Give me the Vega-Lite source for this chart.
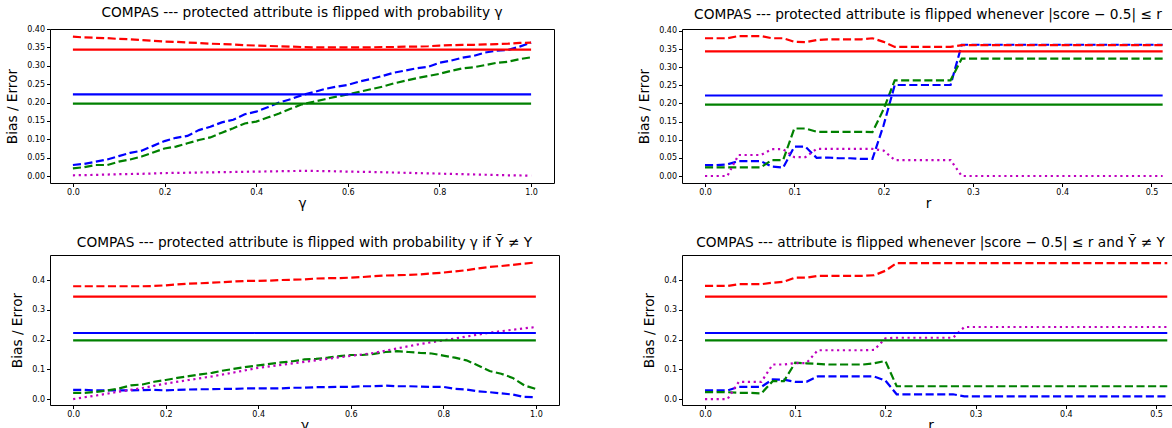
{
  "$schema": "https://vega.github.io/schema/vega-lite/v6.json",
  "datasets": {
    "d": [
      {"p":"TL","x":0,"bt":0.030,"gt":0.021,"rt":0.379,"ci":0.002},
      {"p":"TL","x":0.025,"bt":0.033,"gt":0.024,"rt":0.377},
      {"p":"TL","x":0.05,"bt":0.039,"gt":0.030,"rt":0.376,"ci":0.003},
      {"p":"TL","x":0.075,"bt":0.045,"gt":0.030,"rt":0.375},
      {"p":"TL","x":0.1,"bt":0.054,"gt":0.039,"rt":0.373,"ci":0.005},
      {"p":"TL","x":0.125,"bt":0.063,"gt":0.045,"rt":0.372},
      {"p":"TL","x":0.15,"bt":0.069,"gt":0.053,"rt":0.370,"ci":0.006},
      {"p":"TL","x":0.175,"bt":0.082,"gt":0.064,"rt":0.368},
      {"p":"TL","x":0.2,"bt":0.095,"gt":0.075,"rt":0.366,"ci":0.008},
      {"p":"TL","x":0.225,"bt":0.104,"gt":0.080,"rt":0.365},
      {"p":"TL","x":0.25,"bt":0.109,"gt":0.089,"rt":0.363,"ci":0.009},
      {"p":"TL","x":0.275,"bt":0.125,"gt":0.098,"rt":0.362},
      {"p":"TL","x":0.3,"bt":0.134,"gt":0.105,"rt":0.360,"ci":0.010},
      {"p":"TL","x":0.325,"bt":0.146,"gt":0.118,"rt":0.359},
      {"p":"TL","x":0.35,"bt":0.153,"gt":0.130,"rt":0.358,"ci":0.011},
      {"p":"TL","x":0.375,"bt":0.168,"gt":0.143,"rt":0.356},
      {"p":"TL","x":0.4,"bt":0.175,"gt":0.148,"rt":0.355,"ci":0.012},
      {"p":"TL","x":0.425,"bt":0.187,"gt":0.159,"rt":0.354},
      {"p":"TL","x":0.45,"bt":0.200,"gt":0.170,"rt":0.353,"ci":0.013},
      {"p":"TL","x":0.475,"bt":0.209,"gt":0.183,"rt":0.352},
      {"p":"TL","x":0.5,"bt":0.220,"gt":0.195,"rt":0.351,"ci":0.014},
      {"p":"TL","x":0.525,"bt":0.228,"gt":0.202,"rt":0.350},
      {"p":"TL","x":0.55,"bt":0.237,"gt":0.209,"rt":0.350,"ci":0.0135},
      {"p":"TL","x":0.575,"bt":0.243,"gt":0.216,"rt":0.350},
      {"p":"TL","x":0.6,"bt":0.248,"gt":0.222,"rt":0.350,"ci":0.012},
      {"p":"TL","x":0.625,"bt":0.257,"gt":0.229,"rt":0.350},
      {"p":"TL","x":0.65,"bt":0.264,"gt":0.236,"rt":0.350,"ci":0.011},
      {"p":"TL","x":0.675,"bt":0.272,"gt":0.243,"rt":0.351},
      {"p":"TL","x":0.7,"bt":0.281,"gt":0.252,"rt":0.351,"ci":0.0095},
      {"p":"TL","x":0.725,"bt":0.287,"gt":0.259,"rt":0.352},
      {"p":"TL","x":0.75,"bt":0.293,"gt":0.266,"rt":0.352,"ci":0.008},
      {"p":"TL","x":0.775,"bt":0.297,"gt":0.272,"rt":0.353},
      {"p":"TL","x":0.8,"bt":0.308,"gt":0.278,"rt":0.355,"ci":0.0065},
      {"p":"TL","x":0.825,"bt":0.314,"gt":0.286,"rt":0.356},
      {"p":"TL","x":0.85,"bt":0.322,"gt":0.293,"rt":0.357,"ci":0.005},
      {"p":"TL","x":0.875,"bt":0.327,"gt":0.296,"rt":0.357},
      {"p":"TL","x":0.9,"bt":0.336,"gt":0.302,"rt":0.358,"ci":0.0035},
      {"p":"TL","x":0.925,"bt":0.341,"gt":0.308,"rt":0.359},
      {"p":"TL","x":0.95,"bt":0.343,"gt":0.311,"rt":0.360,"ci":0.002},
      {"p":"TL","x":0.975,"bt":0.352,"gt":0.318,"rt":0.362},
      {"p":"TL","x":1,"bt":0.363,"gt":0.323,"rt":0.363,"ci":0.001},
      {"p":"TL","x":0,"bc":0.222,"gc":0.197,"rc":0.344},
      {"p":"TL","x":1,"bc":0.222,"gc":0.197,"rc":0.344},
      {"p":"TR","x":0,"bt":0.030,"gt":0.024,"rt":0.380,"ci":0},
      {"p":"TR","x":0.0125,"bt":0.030,"gt":0.024,"rt":0.380,"ci":0},
      {"p":"TR","x":0.025,"bt":0.032,"gt":0.024,"rt":0.380,"ci":0},
      {"p":"TR","x":0.0375,"bt":0.041,"gt":0.024,"rt":0.386,"ci":0.058},
      {"p":"TR","x":0.05,"bt":0.041,"gt":0.024,"rt":0.386,"ci":0.058},
      {"p":"TR","x":0.0625,"bt":0.041,"gt":0.024,"rt":0.386,"ci":0.058},
      {"p":"TR","x":0.075,"bt":0.026,"gt":0.044,"rt":0.380,"ci":0.074},
      {"p":"TR","x":0.0875,"bt":0.023,"gt":0.044,"rt":0.380,"ci":0.074},
      {"p":"TR","x":0.1,"bt":0.081,"gt":0.131,"rt":0.370,"ci":0.052},
      {"p":"TR","x":0.1125,"bt":0.081,"gt":0.131,"rt":0.369,"ci":0.052},
      {"p":"TR","x":0.125,"bt":0.050,"gt":0.122,"rt":0.375,"ci":0.075},
      {"p":"TR","x":0.1375,"bt":0.051,"gt":0.122,"rt":0.377,"ci":0.075},
      {"p":"TR","x":0.15,"bt":0.049,"gt":0.122,"rt":0.377,"ci":0.075},
      {"p":"TR","x":0.1625,"bt":0.049,"gt":0.122,"rt":0.377,"ci":0.075},
      {"p":"TR","x":0.175,"bt":0.047,"gt":0.122,"rt":0.377,"ci":0.075},
      {"p":"TR","x":0.1875,"bt":0.047,"gt":0.121,"rt":0.380,"ci":0.075},
      {"p":"TR","x":0.2,"bt":0.140,"gt":0.184,"rt":0.370,"ci":0.070},
      {"p":"TR","x":0.2125,"bt":0.251,"gt":0.264,"rt":0.356,"ci":0.044},
      {"p":"TR","x":0.225,"bt":0.251,"gt":0.264,"rt":0.356,"ci":0.044},
      {"p":"TR","x":0.2375,"bt":0.251,"gt":0.264,"rt":0.356,"ci":0.044},
      {"p":"TR","x":0.25,"bt":0.251,"gt":0.264,"rt":0.356,"ci":0.044},
      {"p":"TR","x":0.2625,"bt":0.251,"gt":0.264,"rt":0.356,"ci":0.044},
      {"p":"TR","x":0.275,"bt":0.251,"gt":0.264,"rt":0.356,"ci":0.044},
      {"p":"TR","x":0.2875,"bt":0.362,"gt":0.324,"rt":0.361,"ci":0},
      {"p":"TR","x":0.3,"bt":0.362,"gt":0.324,"rt":0.361,"ci":0},
      {"p":"TR","x":0.3125,"bt":0.362,"gt":0.324,"rt":0.361,"ci":0},
      {"p":"TR","x":0.325,"bt":0.362,"gt":0.324,"rt":0.361,"ci":0},
      {"p":"TR","x":0.3375,"bt":0.362,"gt":0.324,"rt":0.361,"ci":0},
      {"p":"TR","x":0.35,"bt":0.362,"gt":0.324,"rt":0.361,"ci":0},
      {"p":"TR","x":0.3625,"bt":0.362,"gt":0.324,"rt":0.361,"ci":0},
      {"p":"TR","x":0.375,"bt":0.362,"gt":0.324,"rt":0.361,"ci":0},
      {"p":"TR","x":0.3875,"bt":0.362,"gt":0.324,"rt":0.361,"ci":0},
      {"p":"TR","x":0.4,"bt":0.362,"gt":0.324,"rt":0.361,"ci":0},
      {"p":"TR","x":0.4125,"bt":0.362,"gt":0.324,"rt":0.361,"ci":0},
      {"p":"TR","x":0.425,"bt":0.362,"gt":0.324,"rt":0.361,"ci":0},
      {"p":"TR","x":0.4375,"bt":0.362,"gt":0.324,"rt":0.361,"ci":0},
      {"p":"TR","x":0.45,"bt":0.362,"gt":0.324,"rt":0.361,"ci":0},
      {"p":"TR","x":0.4625,"bt":0.362,"gt":0.324,"rt":0.361,"ci":0},
      {"p":"TR","x":0.475,"bt":0.362,"gt":0.324,"rt":0.361,"ci":0},
      {"p":"TR","x":0.4875,"bt":0.362,"gt":0.324,"rt":0.361,"ci":0},
      {"p":"TR","x":0.5,"bt":0.362,"gt":0.324,"rt":0.361,"ci":0},
      {"p":"TR","x":0.5125,"bt":0.362,"gt":0.324,"rt":0.361,"ci":0},
      {"p":"TR","x":0,"bc":0.222,"gc":0.197,"rc":0.344},
      {"p":"TR","x":0.5125,"bc":0.222,"gc":0.197,"rc":0.344},
      {"p":"BL","x":0,"bt":0.031,"gt":0.021,"rt":0.379,"ci":0.000},
      {"p":"BL","x":0.025,"bt":0.031,"gt":0.021,"rt":0.379},
      {"p":"BL","x":0.05,"bt":0.029,"gt":0.024,"rt":0.379,"ci":0.012},
      {"p":"BL","x":0.075,"bt":0.029,"gt":0.029,"rt":0.379},
      {"p":"BL","x":0.1,"bt":0.029,"gt":0.036,"rt":0.379,"ci":0.025},
      {"p":"BL","x":0.125,"bt":0.029,"gt":0.046,"rt":0.379},
      {"p":"BL","x":0.15,"bt":0.030,"gt":0.049,"rt":0.379,"ci":0.037},
      {"p":"BL","x":0.175,"bt":0.031,"gt":0.058,"rt":0.380},
      {"p":"BL","x":0.2,"bt":0.029,"gt":0.064,"rt":0.382,"ci":0.052},
      {"p":"BL","x":0.225,"bt":0.031,"gt":0.071,"rt":0.385},
      {"p":"BL","x":0.25,"bt":0.032,"gt":0.077,"rt":0.388,"ci":0.064},
      {"p":"BL","x":0.275,"bt":0.033,"gt":0.083,"rt":0.389},
      {"p":"BL","x":0.3,"bt":0.033,"gt":0.088,"rt":0.391,"ci":0.076},
      {"p":"BL","x":0.325,"bt":0.034,"gt":0.096,"rt":0.393},
      {"p":"BL","x":0.35,"bt":0.034,"gt":0.102,"rt":0.395,"ci":0.090},
      {"p":"BL","x":0.375,"bt":0.036,"gt":0.108,"rt":0.397},
      {"p":"BL","x":0.4,"bt":0.036,"gt":0.113,"rt":0.397,"ci":0.105},
      {"p":"BL","x":0.425,"bt":0.036,"gt":0.118,"rt":0.398},
      {"p":"BL","x":0.45,"bt":0.036,"gt":0.123,"rt":0.400,"ci":0.115},
      {"p":"BL","x":0.475,"bt":0.038,"gt":0.127,"rt":0.401},
      {"p":"BL","x":0.5,"bt":0.038,"gt":0.133,"rt":0.402,"ci":0.125},
      {"p":"BL","x":0.525,"bt":0.040,"gt":0.135,"rt":0.405},
      {"p":"BL","x":0.55,"bt":0.040,"gt":0.139,"rt":0.406,"ci":0.135},
      {"p":"BL","x":0.575,"bt":0.041,"gt":0.144,"rt":0.406},
      {"p":"BL","x":0.6,"bt":0.041,"gt":0.148,"rt":0.408,"ci":0.145},
      {"p":"BL","x":0.625,"bt":0.043,"gt":0.148,"rt":0.410},
      {"p":"BL","x":0.65,"bt":0.043,"gt":0.152,"rt":0.413,"ci":0.155},
      {"p":"BL","x":0.675,"bt":0.045,"gt":0.158,"rt":0.415},
      {"p":"BL","x":0.7,"bt":0.043,"gt":0.161,"rt":0.416,"ci":0.170},
      {"p":"BL","x":0.725,"bt":0.043,"gt":0.158,"rt":0.417},
      {"p":"BL","x":0.75,"bt":0.042,"gt":0.155,"rt":0.419,"ci":0.185},
      {"p":"BL","x":0.775,"bt":0.041,"gt":0.153,"rt":0.422},
      {"p":"BL","x":0.8,"bt":0.041,"gt":0.146,"rt":0.425,"ci":0.197},
      {"p":"BL","x":0.825,"bt":0.034,"gt":0.139,"rt":0.429},
      {"p":"BL","x":0.85,"bt":0.032,"gt":0.130,"rt":0.433,"ci":0.210},
      {"p":"BL","x":0.875,"bt":0.026,"gt":0.113,"rt":0.439},
      {"p":"BL","x":0.9,"bt":0.023,"gt":0.094,"rt":0.444,"ci":0.223},
      {"p":"BL","x":0.925,"bt":0.019,"gt":0.085,"rt":0.447},
      {"p":"BL","x":0.95,"bt":0.015,"gt":0.071,"rt":0.451,"ci":0.233},
      {"p":"BL","x":0.975,"bt":0.007,"gt":0.046,"rt":0.455},
      {"p":"BL","x":1,"bt":0.006,"gt":0.034,"rt":0.459,"ci":0.242},
      {"p":"BL","x":0,"bc":0.222,"gc":0.197,"rc":0.344},
      {"p":"BL","x":1,"bc":0.222,"gc":0.197,"rc":0.344},
      {"p":"BR","x":0,"bt":0.029,"gt":0.023,"rt":0.380,"ci":0},
      {"p":"BR","x":0.0125,"bt":0.029,"gt":0.023,"rt":0.380,"ci":0},
      {"p":"BR","x":0.025,"bt":0.029,"gt":0.023,"rt":0.380,"ci":0},
      {"p":"BR","x":0.0375,"bt":0.041,"gt":0.021,"rt":0.386,"ci":0.058},
      {"p":"BR","x":0.05,"bt":0.041,"gt":0.021,"rt":0.386,"ci":0.058},
      {"p":"BR","x":0.0625,"bt":0.041,"gt":0.019,"rt":0.386,"ci":0.058},
      {"p":"BR","x":0.075,"bt":0.066,"gt":0.060,"rt":0.391,"ci":0.116},
      {"p":"BR","x":0.0875,"bt":0.065,"gt":0.060,"rt":0.394,"ci":0.116},
      {"p":"BR","x":0.1,"bt":0.058,"gt":0.122,"rt":0.408,"ci":0.121},
      {"p":"BR","x":0.1125,"bt":0.058,"gt":0.120,"rt":0.408,"ci":0.121},
      {"p":"BR","x":0.125,"bt":0.076,"gt":0.118,"rt":0.414,"ci":0.164},
      {"p":"BR","x":0.1375,"bt":0.076,"gt":0.116,"rt":0.414,"ci":0.164},
      {"p":"BR","x":0.15,"bt":0.076,"gt":0.116,"rt":0.414,"ci":0.164},
      {"p":"BR","x":0.1625,"bt":0.076,"gt":0.116,"rt":0.414,"ci":0.164},
      {"p":"BR","x":0.175,"bt":0.076,"gt":0.116,"rt":0.414,"ci":0.164},
      {"p":"BR","x":0.1875,"bt":0.076,"gt":0.120,"rt":0.416,"ci":0.165},
      {"p":"BR","x":0.2,"bt":0.062,"gt":0.128,"rt":0.431,"ci":0.204},
      {"p":"BR","x":0.2125,"bt":0.016,"gt":0.043,"rt":0.457,"ci":0.206},
      {"p":"BR","x":0.225,"bt":0.016,"gt":0.043,"rt":0.457,"ci":0.206},
      {"p":"BR","x":0.2375,"bt":0.016,"gt":0.043,"rt":0.457,"ci":0.206},
      {"p":"BR","x":0.25,"bt":0.016,"gt":0.043,"rt":0.457,"ci":0.206},
      {"p":"BR","x":0.2625,"bt":0.016,"gt":0.043,"rt":0.457,"ci":0.206},
      {"p":"BR","x":0.275,"bt":0.016,"gt":0.043,"rt":0.457,"ci":0.206},
      {"p":"BR","x":0.2875,"bt":0.009,"gt":0.043,"rt":0.457,"ci":0.242},
      {"p":"BR","x":0.3,"bt":0.009,"gt":0.043,"rt":0.457,"ci":0.242},
      {"p":"BR","x":0.3125,"bt":0.009,"gt":0.043,"rt":0.457,"ci":0.242},
      {"p":"BR","x":0.325,"bt":0.009,"gt":0.043,"rt":0.457,"ci":0.242},
      {"p":"BR","x":0.3375,"bt":0.009,"gt":0.043,"rt":0.457,"ci":0.242},
      {"p":"BR","x":0.35,"bt":0.009,"gt":0.043,"rt":0.457,"ci":0.242},
      {"p":"BR","x":0.3625,"bt":0.009,"gt":0.043,"rt":0.457,"ci":0.242},
      {"p":"BR","x":0.375,"bt":0.009,"gt":0.043,"rt":0.457,"ci":0.242},
      {"p":"BR","x":0.3875,"bt":0.009,"gt":0.043,"rt":0.457,"ci":0.242},
      {"p":"BR","x":0.4,"bt":0.009,"gt":0.043,"rt":0.457,"ci":0.242},
      {"p":"BR","x":0.4125,"bt":0.009,"gt":0.043,"rt":0.457,"ci":0.242},
      {"p":"BR","x":0.425,"bt":0.009,"gt":0.043,"rt":0.457,"ci":0.242},
      {"p":"BR","x":0.4375,"bt":0.009,"gt":0.043,"rt":0.457,"ci":0.242},
      {"p":"BR","x":0.45,"bt":0.009,"gt":0.043,"rt":0.457,"ci":0.242},
      {"p":"BR","x":0.4625,"bt":0.009,"gt":0.043,"rt":0.457,"ci":0.242},
      {"p":"BR","x":0.475,"bt":0.009,"gt":0.043,"rt":0.457,"ci":0.242},
      {"p":"BR","x":0.4875,"bt":0.009,"gt":0.043,"rt":0.457,"ci":0.242},
      {"p":"BR","x":0.5,"bt":0.009,"gt":0.043,"rt":0.457,"ci":0.242},
      {"p":"BR","x":0.5125,"bt":0.009,"gt":0.043,"rt":0.457,"ci":0.242},
      {"p":"BR","x":0,"bc":0.222,"gc":0.197,"rc":0.344},
      {"p":"BR","x":0.5125,"bc":0.222,"gc":0.197,"rc":0.344}
    ]
  },
  "spacing": 24,
  "vconcat": [
    {
      "spacing": 82,
      "hconcat": [
        {
          "width": 504, "height": 154,
          "title": "COMPAS --- protected attribute is flipped with probability γ",
          "data": {"name": "d"},
          "transform": [{"filter": "datum.p == 'TL'"}, {"fold": ["bt","bc","gt","gc","rt","rc","ci"], "as": ["s","y"]}, {"filter": "datum.y != null"}],
          "mark": {"type": "line", "strokeWidth": 2.2},
          "encoding": {
            "x": {"field": "x", "type": "quantitative", "scale": {"domain": [-0.05, 1.05], "nice": false, "zero": false}, "axis": {"values": [0,0.2,0.4,0.6,0.8,1], "format": ".1f", "title": "γ"}},
            "y": {"field": "y", "type": "quantitative", "scale": {"domain": [-0.019, 0.4], "nice": false, "zero": false}, "axis": {"values": [0,0.05,0.1,0.15,0.2,0.25,0.3,0.35,0.4], "format": ".2f", "title": "Bias / Error"}},
            "color": {"field": "s", "type": "nominal", "scale": {"domain": ["bt","bc","gt","gc","rt","rc","ci"], "range": ["#0000ff","#0000ff","#008000","#008000","#ff0000","#ff0000","#bf00bf"]}, "legend": null},
            "strokeDash": {"field": "s", "type": "nominal", "scale": {"domain": ["bt","bc","gt","gc","rt","rc","ci"], "range": [[8.1,3.5],[1,0],[8.1,3.5],[1,0],[8.1,3.5],[1,0],[2.2,3.6]]}, "legend": null}
          }
        },
        {
          "width": 492, "height": 154,
          "title": "COMPAS --- protected attribute is flipped whenever |score − 0.5| ≤ r",
          "data": {"name": "d"},
          "transform": [{"filter": "datum.p == 'TR'"}, {"fold": ["bt","bc","gt","gc","rt","rc","ci"], "as": ["s","y"]}, {"filter": "datum.y != null"}],
          "mark": {"type": "line", "strokeWidth": 2.2},
          "encoding": {
            "x": {"field": "x", "type": "quantitative", "scale": {"domain": [-0.02576, 0.5252], "nice": false, "zero": false}, "axis": {"values": [0,0.1,0.2,0.3,0.4,0.5], "format": ".1f", "title": "r"}},
            "y": {"field": "y", "type": "quantitative", "scale": {"domain": [-0.0193, 0.4055], "nice": false, "zero": false}, "axis": {"values": [0,0.05,0.1,0.15,0.2,0.25,0.3,0.35,0.4], "format": ".2f", "title": "Bias / Error"}},
            "color": {"field": "s", "type": "nominal", "scale": {"domain": ["bt","bc","gt","gc","rt","rc","ci"], "range": ["#0000ff","#0000ff","#008000","#008000","#ff0000","#ff0000","#bf00bf"]}, "legend": null},
            "strokeDash": {"field": "s", "type": "nominal", "scale": {"domain": ["bt","bc","gt","gc","rt","rc","ci"], "range": [[8.1,3.5],[1,0],[8.1,3.5],[1,0],[8.1,3.5],[1,0],[2.2,3.6]]}, "legend": null}
          }
        }
      ]
    },
    {
      "spacing": 82,
      "hconcat": [
        {
          "width": 509, "height": 150,
          "title": "COMPAS --- protected attribute is flipped with probability γ if Ỹ ≠ Y",
          "data": {"name": "d"},
          "transform": [{"filter": "datum.p == 'BL'"}, {"fold": ["bt","bc","gt","gc","rt","rc","ci"], "as": ["s","y"]}, {"filter": "datum.y != null"}],
          "mark": {"type": "line", "strokeWidth": 2.2},
          "encoding": {
            "x": {"field": "x", "type": "quantitative", "scale": {"domain": [-0.05, 1.05], "nice": false, "zero": false}, "axis": {"values": [0,0.2,0.4,0.6,0.8,1], "format": ".1f", "title": "γ"}},
            "y": {"field": "y", "type": "quantitative", "scale": {"domain": [-0.02, 0.484], "nice": false, "zero": false}, "axis": {"values": [0,0.1,0.2,0.3,0.4], "format": ".1f", "title": "Bias / Error"}},
            "color": {"field": "s", "type": "nominal", "scale": {"domain": ["bt","bc","gt","gc","rt","rc","ci"], "range": ["#0000ff","#0000ff","#008000","#008000","#ff0000","#ff0000","#bf00bf"]}, "legend": null},
            "strokeDash": {"field": "s", "type": "nominal", "scale": {"domain": ["bt","bc","gt","gc","rt","rc","ci"], "range": [[8.1,3.5],[1,0],[8.1,3.5],[1,0],[8.1,3.5],[1,0],[2.2,3.6]]}, "legend": null}
          }
        },
        {
          "width": 497, "height": 150,
          "title": "COMPAS --- attribute is flipped whenever |score − 0.5| ≤ r and Ỹ ≠ Y",
          "data": {"name": "d"},
          "transform": [{"filter": "datum.p == 'BR'"}, {"fold": ["bt","bc","gt","gc","rt","rc","ci"], "as": ["s","y"]}, {"filter": "datum.y != null"}],
          "mark": {"type": "line", "strokeWidth": 2.2},
          "encoding": {
            "x": {"field": "x", "type": "quantitative", "scale": {"domain": [-0.0255, 0.5255], "nice": false, "zero": false}, "axis": {"values": [0,0.1,0.2,0.3,0.4,0.5], "format": ".1f", "title": "r"}},
            "y": {"field": "y", "type": "quantitative", "scale": {"domain": [-0.02, 0.484], "nice": false, "zero": false}, "axis": {"values": [0,0.1,0.2,0.3,0.4], "format": ".1f", "title": "Bias / Error"}},
            "color": {"field": "s", "type": "nominal", "scale": {"domain": ["bt","bc","gt","gc","rt","rc","ci"], "range": ["#0000ff","#0000ff","#008000","#008000","#ff0000","#ff0000","#bf00bf"]}, "legend": null},
            "strokeDash": {"field": "s", "type": "nominal", "scale": {"domain": ["bt","bc","gt","gc","rt","rc","ci"], "range": [[8.1,3.5],[1,0],[8.1,3.5],[1,0],[8.1,3.5],[1,0],[2.2,3.6]]}, "legend": null}
          }
        }
      ]
    }
  ],
  "config": {
    "font": "DejaVu Sans",
    "view": {"stroke": "#000000"},
    "axis": {"grid": false, "domain": false, "tickColor": "#000000", "tickSize": 3.5, "labelFontSize": 8, "labelColor": "#000000", "labelPadding": 2, "titleFontSize": 13.7, "titleFontWeight": "normal", "titleColor": "#000000"},
    "axisX": {"titlePadding": 0},
    "axisY": {"titlePadding": 7},
    "title": {"fontSize": 13.7, "fontWeight": "normal", "color": "#000000", "offset": 5}
  }
}
